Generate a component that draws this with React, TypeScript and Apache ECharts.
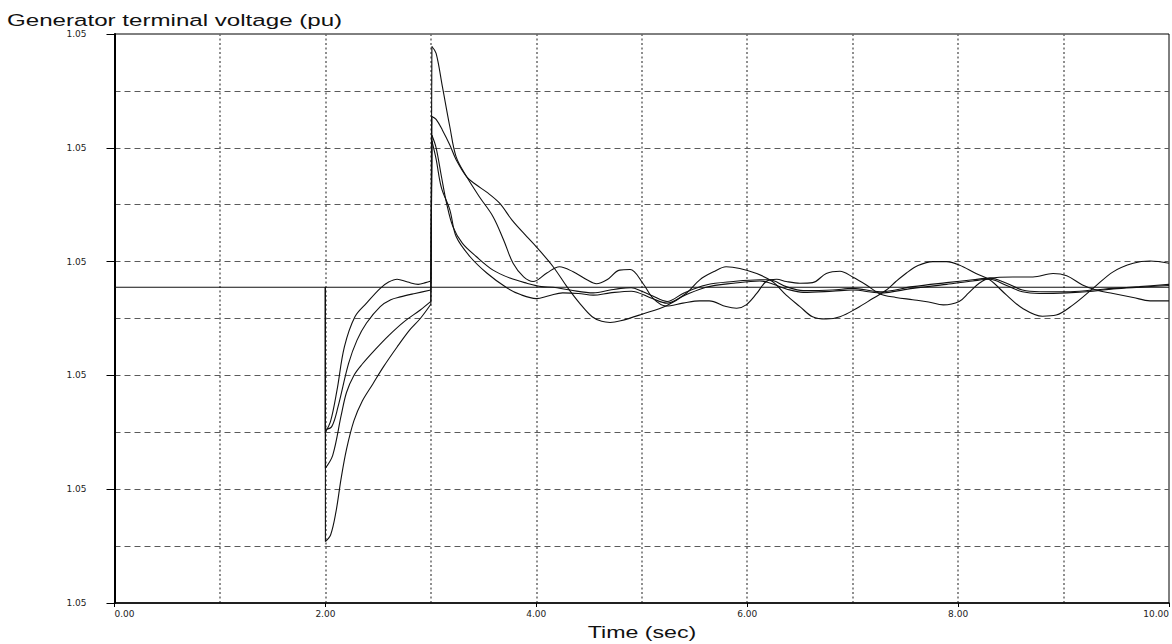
import { useEffect, useRef } from "react";
import * as echarts from "echarts";

const chartTitle = "Generator terminal voltage (pu)";
const xAxisTitle = "Time (sec)";

const timeRange = [0, 10];
const voltageRange = [1.047, 1.052];
const faultTime = 2.0;

const steadyState: [number, number][] = [[0, 1.049775], [10, 1.049775]];

const recoveryA: [number, number][] = [
  [2, 1.0485], [2.05, 1.0486], [2.11, 1.04887], [2.18, 1.04925], [2.28, 1.049515], [2.39, 1.049635],
  [2.52, 1.049765], [2.6, 1.04982], [2.68, 1.049845], [2.78, 1.04982], [2.88, 1.0498], [2.95, 1.049815], [3.0, 1.04983],
];
const responseA: [number, number][] = [
  [3.01, 1.05189], [3.05, 1.05183], [3.11, 1.051535], [3.18, 1.051185], [3.24, 1.05092], [3.34, 1.050745],
  [3.46, 1.05057], [3.59, 1.050395], [3.69, 1.05019], [3.78, 1.049985], [3.88, 1.049865], [3.97, 1.049825],
  [4.1, 1.0499], [4.22, 1.049955], [4.35, 1.04991], [4.48, 1.04984], [4.57, 1.049805], [4.67, 1.04984],
  [4.79, 1.049925], [4.89, 1.04993], [5.01, 1.04981], [5.11, 1.049675], [5.23, 1.04961], [5.39, 1.049635],
  [5.55, 1.049655], [5.64, 1.049655], [5.8, 1.049605], [5.9, 1.04959], [5.99, 1.04962], [6.09, 1.04972],
  [6.18, 1.049825], [6.28, 1.049845], [6.37, 1.049825], [6.5, 1.04981], [6.62, 1.049815], [6.75, 1.049895],
  [6.88, 1.049915], [7.0, 1.049865], [7.13, 1.049795], [7.26, 1.049715], [7.41, 1.049685], [7.57, 1.049665],
  [7.72, 1.049645], [7.86, 1.04962], [8.01, 1.04965], [8.1, 1.049725], [8.2, 1.04981], [8.3, 1.049855],
  [8.52, 1.049865], [8.71, 1.049865], [8.9, 1.049895], [9.03, 1.049875], [9.18, 1.049795], [9.31, 1.04975],
  [9.47, 1.04972], [9.66, 1.049685], [9.82, 1.049655], [10, 1.049655],
];

const recoveryB: [number, number][] = [
  [2, 1.048525], [2.06, 1.04855], [2.12, 1.048725], [2.22, 1.049105], [2.3, 1.04931], [2.39, 1.04946],
  [2.52, 1.049605], [2.62, 1.049665], [2.71, 1.04969], [2.85, 1.04972], [3.0, 1.04975],
];
const responseB: [number, number][] = [
  [3.01, 1.051275], [3.05, 1.05125], [3.11, 1.051155], [3.18, 1.051025], [3.24, 1.050895], [3.34, 1.050745],
  [3.43, 1.050675], [3.53, 1.05061], [3.65, 1.050515], [3.77, 1.050365], [3.91, 1.05022], [4.0, 1.05013],
  [4.16, 1.049955], [4.29, 1.04978], [4.41, 1.049635], [4.53, 1.049515], [4.62, 1.049475], [4.7, 1.049465],
  [4.8, 1.04948], [5.01, 1.04954], [5.23, 1.04961], [5.42, 1.04972], [5.55, 1.04984], [5.68, 1.04991],
  [5.8, 1.049955], [5.93, 1.04994], [6.09, 1.049895], [6.24, 1.049825], [6.37, 1.049705], [6.5, 1.049605],
  [6.62, 1.049515], [6.75, 1.049495], [6.88, 1.049515], [7.04, 1.04959], [7.19, 1.049675], [7.32, 1.04975],
  [7.41, 1.049825], [7.51, 1.0499], [7.62, 1.049965], [7.76, 1.05], [7.89, 1.05], [8.01, 1.04997],
  [8.17, 1.049895], [8.3, 1.04984], [8.46, 1.049705], [8.61, 1.04959], [8.8, 1.04952], [8.93, 1.04953],
  [9.09, 1.04962], [9.28, 1.049765], [9.47, 1.04991], [9.66, 1.049985], [9.82, 1.050005], [10, 1.049985],
];

const recoveryC: [number, number][] = [
  [2, 1.048185], [2.07, 1.0483], [2.15, 1.04865], [2.2, 1.04885], [2.27, 1.049], [2.35, 1.0491],
  [2.47, 1.049225], [2.6, 1.04935], [2.75, 1.049475], [2.9, 1.049575], [3.0, 1.04965],
];
const responseC: [number, number][] = [
  [3.01, 1.05111], [3.05, 1.051], [3.1, 1.05075], [3.15, 1.05051], [3.21, 1.050305], [3.3, 1.05016],
  [3.43, 1.050045], [3.59, 1.049925], [3.75, 1.049855], [3.91, 1.04981], [4.05, 1.04978], [4.16, 1.049775],
  [4.32, 1.04975], [4.54, 1.049725], [4.7, 1.04975], [4.8, 1.049765], [4.9, 1.04977], [5.0, 1.04974],
  [5.1, 1.0497], [5.24, 1.04965], [5.4, 1.049725], [5.61, 1.049795], [5.87, 1.049825], [6.12, 1.04984],
  [6.21, 1.04984], [6.37, 1.04978], [6.53, 1.049745], [6.81, 1.04975], [7.0, 1.049765], [7.26, 1.049735],
  [7.57, 1.04978], [7.89, 1.049815], [8.14, 1.04984], [8.3, 1.049855], [8.46, 1.04981], [8.61, 1.04975],
  [8.77, 1.049735], [9.03, 1.049735], [9.28, 1.04975], [9.47, 1.049765], [9.72, 1.04978], [10, 1.0498],
];

const recoveryD: [number, number][] = [
  [2, 1.04754], [2.05, 1.0476], [2.1, 1.0478], [2.15, 1.0481], [2.2, 1.04835], [2.27, 1.0486],
  [2.35, 1.048775], [2.45, 1.048925], [2.55, 1.049075], [2.68, 1.04925], [2.8, 1.0494], [2.9, 1.0495], [3.0, 1.049625],
];
const responseD: [number, number][] = [
  [3.01, 1.05106], [3.05, 1.0509], [3.1, 1.05065], [3.18, 1.050455], [3.24, 1.05022], [3.37, 1.050045],
  [3.53, 1.0499], [3.72, 1.04977], [3.85, 1.04971], [4.0, 1.049675], [4.12, 1.0497], [4.25, 1.049725],
  [4.4, 1.04972], [4.54, 1.049705], [4.7, 1.049725], [4.9, 1.04974], [5.1, 1.049675], [5.24, 1.049635],
  [5.4, 1.0497], [5.61, 1.049775], [5.87, 1.04981], [6.12, 1.04983], [6.37, 1.04976], [6.53, 1.04973],
  [6.81, 1.04974], [7.0, 1.04975], [7.26, 1.049725], [7.57, 1.049765], [7.89, 1.0498], [8.14, 1.04983],
  [8.3, 1.049845], [8.46, 1.04979], [8.61, 1.049735], [8.77, 1.04972], [9.03, 1.049725], [9.28, 1.04974],
  [9.47, 1.04976], [9.72, 1.049775], [10, 1.04979],
];

const curves: [[number, number][], [number, number][]][] = [
  [recoveryA, responseA],
  [recoveryB, responseB],
  [recoveryC, responseC],
  [recoveryD, responseD],
];

function buildOption(): any {
  const lineStyle = { color: "#111", width: 1.1 };
  const base = {
    type: "line",
    showSymbol: false,
    silent: true,
    lineStyle,
    xAxisIndex: 0,
    yAxisIndex: 0,
  };
  const steadyV = steadyState[0][1];
  const series: any[] = [{ ...base, data: steadyState }];
  curves.forEach(([rec, resp]) => {
    series.push({ ...base, data: [[faultTime, steadyV], rec[0]] });
    series.push({ ...base, data: rec, smooth: 0.35 });
    series.push({ ...base, data: [rec[rec.length - 1], resp[0]] });
    series.push({ ...base, data: resp, smooth: 0.35 });
  });

  const labelFont = { fontFamily: "'DejaVu Sans', sans-serif", fontSize: 9, color: "#222" };

  return {
    animation: false,
    backgroundColor: "#fff",
    grid: {
      left: 114.5,
      right: 2.5,
      top: 34,
      bottom: 41,
      show: true,
      borderColor: "#000",
      borderWidth: 1,
      backgroundColor: "transparent",
    },
    xAxis: [
      {
        type: "value",
        min: timeRange[0],
        max: timeRange[1],
        interval: 2,
        position: "bottom",
        axisLine: { show: true, onZero: false, lineStyle: { color: "#000", width: 1.5 } },
        axisTick: { show: true, length: 4, lineStyle: { color: "#000", width: 1 } },
        axisLabel: {
          ...labelFont,
          margin: 6,
          formatter: (v: number) => v.toFixed(2),
          alignMinLabel: "left",
          alignMaxLabel: "right",
        },
        splitLine: { show: false },
      },
      {
        type: "value",
        min: timeRange[0],
        max: timeRange[1],
        interval: 1,
        position: "bottom",
        axisLine: { show: false },
        axisTick: { show: false },
        axisLabel: { show: false },
        splitLine: {
          show: true,
          showMinLine: false,
          showMaxLine: false,
          lineStyle: { color: "#6a6a6a", width: 1.5, type: [2, 2.5] },
        },
      },
    ],
    yAxis: [
      {
        type: "value",
        min: voltageRange[0],
        max: voltageRange[1],
        interval: 0.001,
        position: "left",
        axisLine: { show: true, onZero: false, lineStyle: { color: "#000", width: 2 } },
        axisTick: { show: true, length: 8, lineStyle: { color: "#000", width: 1 } },
        axisLabel: {
          ...labelFont,
          margin: 28,
          formatter: (v: number) => v.toFixed(2),
        },
        splitLine: { show: false },
      },
      {
        type: "value",
        min: voltageRange[0],
        max: voltageRange[1],
        interval: 0.0005,
        position: "left",
        axisLine: { show: false },
        axisTick: { show: false },
        axisLabel: { show: false },
        splitLine: {
          show: true,
          showMinLine: false,
          showMaxLine: false,
          lineStyle: { color: "#5a5a5a", width: 1, type: [6, 4] },
        },
      },
    ],
    graphic: [
      {
        type: "text",
        x: 7,
        y: 20,
        scaleX: 1.42,
        style: {
          text: chartTitle,
          font: "17px 'Liberation Sans', Arial, sans-serif",
          fill: "#111",
          align: "left",
          verticalAlign: "middle",
          textAlign: "left",
          textVerticalAlign: "middle",
        },
      },
      {
        type: "text",
        x: 642,
        y: 632,
        scaleX: 1.45,
        style: {
          text: xAxisTitle,
          font: "16px 'Liberation Sans', Arial, sans-serif",
          fill: "#111",
          align: "center",
          verticalAlign: "middle",
          textAlign: "center",
          textVerticalAlign: "middle",
        },
      },
    ],
    series,
  };
}

export default function App() {
  const ref = useRef<HTMLDivElement>(null);
  useEffect(() => {
    document.body.style.margin = "0";
    const chart = echarts.init(ref.current as HTMLDivElement, undefined, { renderer: "svg" });
    chart.setOption(buildOption());
    return () => {
      chart.dispose();
    };
  }, []);
  return <div ref={ref} style={{ width: 1172, height: 644 }} />;
}
